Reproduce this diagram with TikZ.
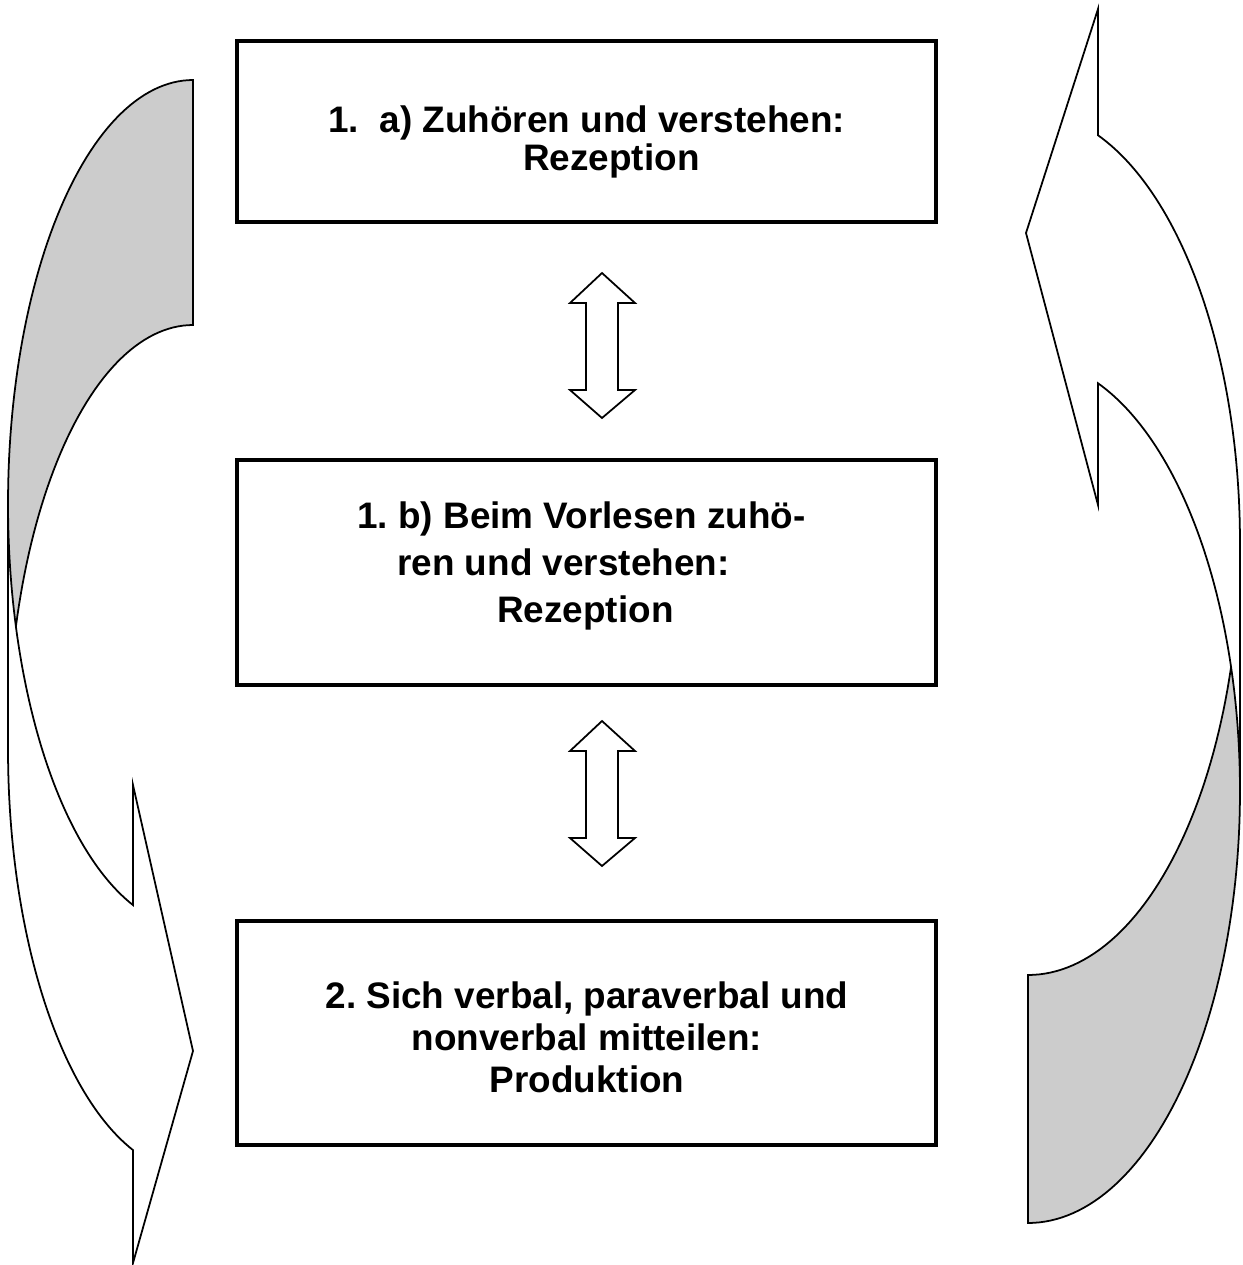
\documentclass[tikz,border=0pt]{standalone}
\usepackage{fontspec}
\setmainfont{Liberation Sans}
\definecolor{shadegray}{RGB}{204,204,204}
\frenchspacing
\begin{document}
\begin{tikzpicture}[x=0.02cm,y=-0.02cm,
  boxstyle/.style={draw=black, line width=2.2pt, minimum width=13.98cm, inner sep=0pt},
  labelstyle/.style={inner sep=0pt, font=\bfseries\fontsize{21}{20}\selectfont},
  arrowline/.style={draw=black, line width=1pt, line join=miter},
  dblarrow/.style={draw=black, line width=1pt, fill=white}]
\useasboundingbox (0,0) rectangle (1243,1265);

% boxes
\node[boxstyle, minimum height=3.62cm] (b1) at (586.5,131.5) {};
\node[boxstyle, minimum height=4.50cm] (b2) at (586.5,572.5) {};
\node[boxstyle, minimum height=4.48cm] (b3) at (586.5,1033) {};

% labels
\node[labelstyle, anchor=west, align=left, font=\bfseries\fontsize{21}{22}\selectfont] (t1) at (328,142)
  {1.\ \ a) Zuhören und verstehen:\\\hspace*{3.9cm}Rezeption};
\node[labelstyle, anchor=west, align=left, font=\bfseries\fontsize{21}{27}\selectfont] (t2) at (357,566)
  {1. b) Beim Vorlesen zuhö-\\\hspace*{0.8cm}ren und verstehen:\\\hspace*{2.8cm}Rezeption};
\node[labelstyle, align=center, font=\bfseries\fontsize{21}{24}\selectfont] (t3) at (587,1037)
  {2. Sich verbal, paraverbal und\\nonverbal mitteilen:\\Produktion};

% double arrows between boxes
\coordinate (d1) at (602,273);
\coordinate (d2) at (602,721);
\foreach \c in {d1,d2}{
  \draw[dblarrow, shift={(\c)}] (0,0) -- (33,30) -- (16,30) -- (16,117) -- (33,117)
    -- (0,145) -- (-32,117) -- (-16,117) -- (-16,30) -- (-32,30) -- cycle;
}

% left curved arrow: back (shaded) part
\draw[arrowline, fill=shadegray]
  plot[domain=90:180, samples=60, variable=\t] ({193+185*cos(\t)},{504-424*sin(\t)})
  -- (8,749)
  -- plot[domain=180:90, samples=60, variable=\t] ({193+185*cos(\t)},{749-424*sin(\t)})
  -- cycle;
% left curved arrow: front part with head
\draw[arrowline, fill=white]
  plot[domain=180:251.1, samples=60, variable=\t] ({193+185*cos(\t)},{504-424*sin(\t)})
  -- (133,785) -- (193,1051) -- (133,1263)
  -- plot[domain=251.1:180, samples=60, variable=\t] ({193+185*cos(\t)},{749-424*sin(\t)})
  -- cycle;

% right curved arrow: back (shaded) part
\draw[arrowline, fill=shadegray]
  plot[domain=270:360, samples=60, variable=\t] ({1028+212*cos(\t)},{791-432*sin(\t)})
  -- (1240,543)
  -- plot[domain=360:270, samples=60, variable=\t] ({1028+212*cos(\t)},{543-432*sin(\t)})
  -- cycle;
% right curved arrow: front part with head
\draw[arrowline, fill=white]
  plot[domain=0:70.7, samples=60, variable=\t] ({1028+212*cos(\t)},{791-432*sin(\t)})
  -- (1098,505) -- (1026,233) -- (1098,9)
  -- plot[domain=70.7:0, samples=60, variable=\t] ({1028+212*cos(\t)},{543-432*sin(\t)})
  -- cycle;
\end{tikzpicture}
\end{document}
